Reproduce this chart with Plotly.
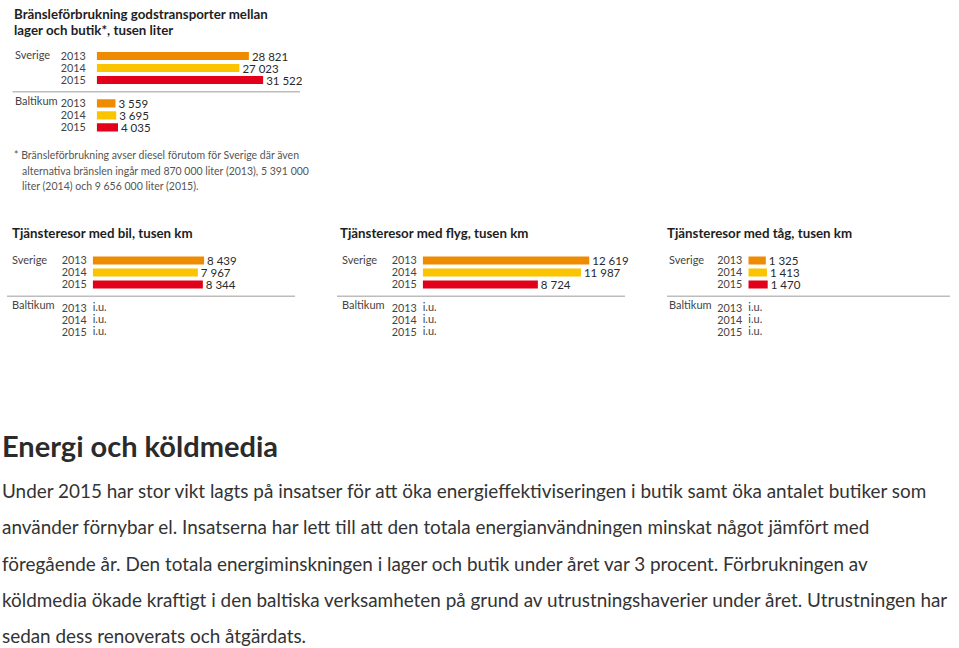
import plotly.graph_objects as go

W, H = 959, 648

# ---------------- data ----------------
years = ["2013", "2014", "2015"]
groups = ["Sverige", "Baltikum"]
missing_label = "i.u."

fuel_title = ["Bränsleförbrukning godstransporter mellan", "lager och butik*, tusen liter"]
fuel_sverige = [28821, 27023, 31522]
fuel_baltikum = [3559, 3695, 4035]

car_title = ["Tjänsteresor med bil, tusen km"]
car_sverige = [8439, 7967, 8344]
car_baltikum = [None, None, None]

flight_title = ["Tjänsteresor med flyg, tusen km"]
flight_sverige = [12619, 11987, 8724]
flight_baltikum = [None, None, None]

train_title = ["Tjänsteresor med tåg, tusen km"]
train_sverige = [1325, 1413, 1470]
train_baltikum = [None, None, None]

footnote = [
    "* Bränsleförbrukning avser diesel förutom för Sverige där även",
    "alternativa bränslen ingår med 870 000 liter (2013), 5 391 000",
    "liter (2014) och 9 656 000 liter (2015).",
]

heading = "Energi och köldmedia"
body_lines = [
    "Under 2015 har stor vikt lagts på insatser för att öka energieffektiviseringen i butik samt öka antalet butiker som",
    "använder förnybar el. Insatserna har lett till att den totala energianvändningen minskat något jämfört med",
    "föregående år. Den totala energiminskningen i lager och butik under året var 3 procent. Förbrukningen av",
    "köldmedia ökade kraftigt i den baltiska verksamheten på grund av utrustningshaverier under året. Utrustningen har",
    "sedan dess renoverats och åtgärdats.",
]

# ---------------- style ----------------
year_colors = ["#EE8B00", "#FBC400", "#E2001A"]
CHART_FONT = "Lato"
TEXT_DARK = "#2a2a2a"
TEXT_MID = "#444444"

def px(x):
    return x / W

def py(y):
    return 1 - y / H

ROW_PX = 12.0
sverige_rows = [0, 1, 2]
baltikum_rows = [3.95, 4.95, 5.95]
sep_row = (sverige_rows[-1] + baltikum_rows[0]) / 2

panels = [
    dict(title=fuel_title, sv=fuel_sverige, ba=fuel_baltikum, bar_x0=96.7, scale=0.00528,
         row0=56, title_x=12, title_y=[13.5, 30], label_x=12.5, sep=(12.5, 300), standoff=10),
    dict(title=car_title, sv=car_sverige, ba=car_baltikum, bar_x0=92.7, scale=0.0132,
         row0=260.5, title_x=10, title_y=[233], label_x=10, sep=(7, 295), standoff=5),
    dict(title=flight_title, sv=flight_sverige, ba=flight_baltikum, bar_x0=422.7, scale=0.0132,
         row0=260.5, title_x=338, title_y=[233], label_x=340, sep=(337, 625), standoff=5),
    dict(title=train_title, sv=train_sverige, ba=train_baltikum, bar_x0=748.3, scale=0.0132,
         row0=260.5, title_x=665, title_y=[233], label_x=667, sep=(667, 950), standoff=5),
]

DOMAIN_PX = 200.0

def fmt(v):
    return "" if v is None else f"{v:,}".replace(",", " ")

fig = go.Figure()
annotations = []
shapes = []
layout_axes = {}

for i, p in enumerate(panels):
    n = i + 1
    xa = "x" if n == 1 else f"x{n}"
    ya = "y" if n == 1 else f"y{n}"
    values = p["sv"] + p["ba"]
    rows = sverige_rows + baltikum_rows
    fig.add_trace(go.Bar(
        x=values, y=rows, orientation="h", xaxis=xa, yaxis=ya,
        width=0.68, marker=dict(color=year_colors * 2, line=dict(width=0)),
        text=[fmt(v) for v in values], textposition="outside",
        textfont=dict(family=CHART_FONT, size=11.5, color=TEXT_DARK),
        constraintext="none", cliponaxis=False, showlegend=False, hoverinfo="skip",
    ))
    missing_rows = [r for r, v in zip(rows, values) if v is None]
    if missing_rows:
        fig.add_trace(go.Scatter(
            x=[0] * len(missing_rows), y=missing_rows, mode="text",
            text=[missing_label] * len(missing_rows), textposition="middle right",
            textfont=dict(family=CHART_FONT, size=11, color=TEXT_MID),
            xaxis=xa, yaxis=ya, showlegend=False, hoverinfo="skip", cliponaxis=False,
        ))
    x0 = p["bar_x0"]
    top = p["row0"] - ROW_PX
    bottom = p["row0"] + 7 * ROW_PX
    layout_axes["xaxis" if n == 1 else f"xaxis{n}"] = dict(
        domain=[px(x0), px(x0 + DOMAIN_PX)], range=[0, DOMAIN_PX / p["scale"]],
        visible=False, anchor=ya, fixedrange=True,
    )
    layout_axes["yaxis" if n == 1 else f"yaxis{n}"] = dict(
        domain=[py(bottom), py(top)], range=[7, -1], anchor=xa,
        tickvals=rows, ticktext=years * 2, ticks="", showgrid=False, zeroline=False,
        showline=False, ticklabelstandoff=p["standoff"],
        tickfont=dict(family=CHART_FONT, size=10.8, color=TEXT_MID), fixedrange=True,
    )
    # titles
    for line, ty in zip(p["title"], p["title_y"]):
        annotations.append(dict(
            text=f"<b>{line}</b>", x=px(p["title_x"]), y=py(ty), xref="paper", yref="paper",
            xanchor="left", yanchor="middle", showarrow=False,
            font=dict(family=CHART_FONT, size=13.3, color="#1e1e1e"),
        ))
    # group labels
    for g, r, shift in zip(groups, [sverige_rows[0], baltikum_rows[0]], [1, 3]):
        annotations.append(dict(
            text=g, x=px(p["label_x"]), y=r, xref="paper", yref=ya,
            xanchor="left", yanchor="middle", yshift=shift, showarrow=False,
            font=dict(family=CHART_FONT, size=11, color=TEXT_MID),
        ))
    # separator
    shapes.append(dict(
        type="line", xref="paper", yref=ya, x0=px(p["sep"][0]), x1=px(p["sep"][1]),
        y0=sep_row, y1=sep_row, line=dict(color="#BDBDBD", width=1.5),
    ))

# footnote
for k, (line, fy) in enumerate(zip(footnote, [155, 170.5, 186])):
    annotations.append(dict(
        text=line, x=px(12 if k == 0 else 20), y=py(fy), xref="paper", yref="paper",
        xanchor="left", yanchor="middle", showarrow=False,
        font=dict(family=CHART_FONT, size=10.5, color="#555555"),
    ))

# heading and body text
annotations.append(dict(
    text=f"<b>{heading}</b>", x=0, y=py(445), xref="paper", yref="paper",
    xanchor="left", yanchor="middle", showarrow=False,
    font=dict(family=CHART_FONT, size=29, color="#2b2b2b"),
))
for line, by in zip(body_lines, [490, 526.5, 563, 599.5, 635]):
    annotations.append(dict(
        text=line, x=0, y=py(by), xref="paper", yref="paper",
        xanchor="left", yanchor="middle", showarrow=False,
        font=dict(family=CHART_FONT, size=18.9, color="#333333"),
    ))

fig.update_layout(
    width=W, height=H, margin=dict(l=0, r=0, t=0, b=0),
    paper_bgcolor="white", plot_bgcolor="rgba(0,0,0,0)",
    annotations=annotations, shapes=shapes, barmode="overlay",
    **layout_axes,
)

fig.write_html("out.html", config={"displayModeBar": False})
